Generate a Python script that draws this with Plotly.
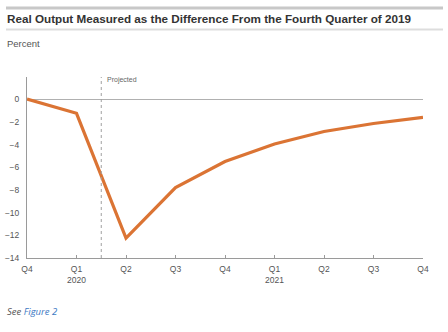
import plotly.graph_objects as go

quarters = ["Q4", "Q1", "Q2", "Q3", "Q4", "Q1", "Q2", "Q3", "Q4"]
years = ["", "2020", "", "", "", "2021", "", "", ""]
values = [0, -1.25, -12.25, -7.8, -5.5, -3.95, -2.85, -2.15, -1.6]
yticks = [0, -2, -4, -6, -8, -10, -12, -14]

W, H = 448, 332
ML, MR, MT, MB = 27, 25, 77, 74
ph = H - MT - MB
pw = W - ML - MR

def py(px):
    return (H - MB - px) / ph

def pxx(px):
    return (px - ML) / pw

x = list(range(len(values)))
ticktext = [q + ("<br>" + y if y else "") for q, y in zip(quarters, years)]

fig = go.Figure()
fig.add_trace(go.Scatter(x=x, y=values, mode="lines",
                         line=dict(color="#DB7434", width=3.2),
                         hoverinfo="skip", showlegend=False, cliponaxis=False))

fig.update_layout(
    width=W, height=H,
    margin=dict(l=ML, r=MR, t=MT, b=MB, autoexpand=False),
    paper_bgcolor="white", plot_bgcolor="white",
    font=dict(family="Liberation Sans, Arial, sans-serif", color="#555555"),
    xaxis=dict(range=[0, 8], tickvals=x, ticktext=ticktext, showgrid=False,
               zeroline=False, showline=True, linecolor="#9a9a9a", linewidth=1,
               ticks="inside", ticklen=3, tickcolor="#9a9a9a",
               ticklabelstandoff=3, automargin=False,
               tickfont=dict(size=8.5, color="#555555")),
    yaxis=dict(range=[-14, 1.95], tickvals=yticks,
               ticktext=[("−" + str(abs(v))) if v < 0 else str(v) for v in yticks],
               showgrid=False, zeroline=True, zerolinecolor="#b0b0b0", zerolinewidth=1,
               showline=True, linecolor="#9a9a9a", linewidth=1, ticks="",
               ticklabelstandoff=5, automargin=False,
               tickfont=dict(size=8.5, color="#555555")),
    shapes=[
        dict(type="line", xref="x", yref="paper", x0=1.5, x1=1.5, y0=0, y1=1,
             line=dict(color="#a0a0a0", width=1, dash="dot")),
        dict(type="line", xref="paper", yref="paper", x0=pxx(6), x1=pxx(443),
             y0=py(8), y1=py(8), line=dict(color="#c8c8c8", width=3)),
        dict(type="line", xref="paper", yref="paper", x0=pxx(6), x1=pxx(443),
             y0=py(29.5), y1=py(29.5), line=dict(color="#dddddd", width=2)),
    ],
    annotations=[
        dict(text="<b>Real Output Measured as the Difference From the Fourth Quarter of 2019</b>",
             xref="paper", yref="paper", x=pxx(5), y=py(19), xanchor="left", yanchor="middle",
             showarrow=False, font=dict(size=11.7, color="#333333",
                                        family="Liberation Sans, Arial, sans-serif")),
        dict(text="Percent", xref="paper", yref="paper", x=pxx(5), y=py(44),
             xanchor="left", yanchor="middle", showarrow=False,
             font=dict(size=9.5, color="#555555")),
        dict(text="Projected", xref="x", yref="paper", x=1.5, y=py(80),
             xanchor="left", yanchor="middle", xshift=4, showarrow=False,
             font=dict(size=7, color="#666666")),
        dict(text="<i>See <span style='color:#3b78c3'>Figure 2</span></i>",
             xref="paper", yref="paper", x=pxx(5), y=py(311),
             xanchor="left", yanchor="middle", showarrow=False,
             font=dict(size=9.5, color="#555555", family="Open Sans, sans-serif")),
    ],
)

fig.write_html("out.html")
